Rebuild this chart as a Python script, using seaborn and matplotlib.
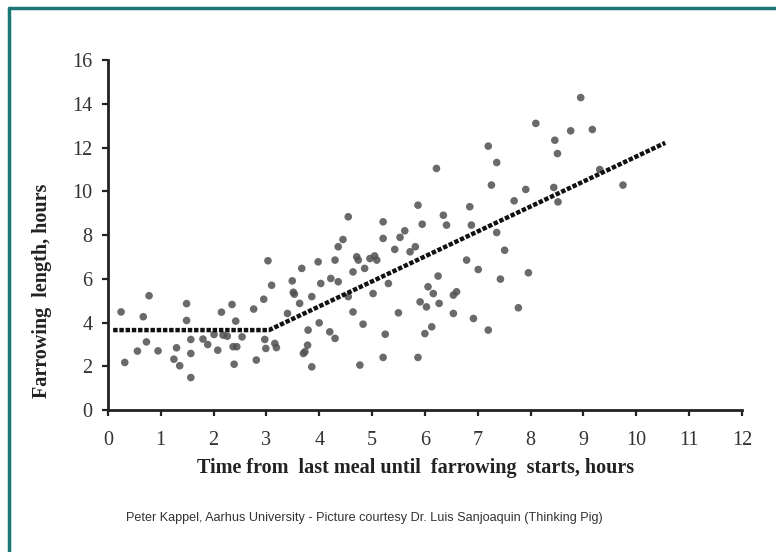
import matplotlib
matplotlib.use("Agg")
import matplotlib.pyplot as plt
import seaborn as sns
import pandas as pd
from matplotlib.lines import Line2D

# ---- data ----
time_h = [0.25, 0.32, 0.56, 0.67, 0.73, 0.78, 0.95, 1.25, 1.30, 1.36, 1.49, 1.49,
          1.57, 1.57, 1.57, 1.80, 1.89, 2.01, 2.08, 2.15, 2.18, 2.26, 2.35, 2.37,
          2.44, 2.39, 2.42, 2.54, 2.76, 2.81, 2.95, 2.97, 2.99, 3.03, 3.10, 3.16,
          3.19, 3.40, 3.49, 3.51, 3.53, 3.63, 3.67, 3.70, 3.73, 3.78, 3.79, 3.86,
          3.86, 3.98, 4.00, 4.03, 4.20, 4.22, 4.30, 4.30, 4.36, 4.36, 4.45, 4.55,
          4.55, 4.64, 4.64, 4.71, 4.74, 4.77, 4.83, 4.86, 4.96, 5.02, 5.05, 5.09,
          5.21, 5.21, 5.21, 5.25, 5.31, 5.43, 5.50, 5.53, 5.62, 5.72, 5.82, 5.87,
          5.87, 5.91, 5.95, 6.00, 6.03, 6.06, 6.13, 6.16, 6.22, 6.25, 6.27, 6.35,
          6.41, 6.54, 6.54, 6.60, 6.79, 6.85, 6.88, 6.92, 7.01, 7.20, 7.20, 7.26,
          7.36, 7.36, 7.43, 7.51, 7.69, 7.77, 7.91, 7.96, 8.10, 8.44, 8.46, 8.51,
          8.52, 8.76, 8.95, 9.17, 9.31, 9.75]
length_h = [4.49, 2.18, 2.70, 4.27, 3.12, 5.23, 2.71, 2.33, 2.85, 2.03, 4.87, 4.10,
            3.23, 2.59, 1.49, 3.25, 3.00, 3.46, 2.74, 4.48, 3.43, 3.38, 4.83, 2.90,
            2.90, 2.10, 4.07, 3.35, 4.62, 2.29, 5.07, 3.23, 2.82, 6.83, 5.71, 3.05,
            2.86, 4.42, 5.91, 5.39, 5.30, 4.88, 6.48, 2.59, 2.67, 2.97, 3.66, 5.19,
            1.98, 6.78, 3.99, 5.79, 3.58, 6.02, 3.28, 6.86, 5.87, 7.47, 7.80, 8.84,
            5.19, 6.32, 4.49, 7.01, 6.86, 2.06, 3.93, 6.48, 6.93, 5.33, 7.05, 6.86,
            8.61, 7.85, 2.41, 3.47, 5.79, 7.35, 4.45, 7.90, 8.20, 7.24, 7.47, 9.37,
            2.41, 4.95, 8.50, 3.50, 4.72, 5.64, 3.81, 5.33, 11.05, 6.13, 4.88, 8.91,
            8.46, 5.26, 4.42, 5.41, 6.86, 9.30, 8.46, 4.19, 6.43, 12.07, 3.66, 10.29,
            11.32, 8.12, 5.99, 7.31, 9.57, 4.68, 10.09, 6.28, 13.11, 10.18, 12.34, 11.73,
            9.52, 12.77, 14.29, 12.83, 11.00, 10.29]

fit_x = [0.1, 3.05, 10.55]
fit_y = [3.66, 3.66, 12.22]

x_ticks = list(range(0, 13))
y_ticks = list(range(0, 17, 2))

x_label = "Time from  last meal until  farrowing  starts, hours"
y_label = "Farrowing  length, hours"
caption = "Peter Kappel, Aarhus University - Picture courtesy Dr. Luis Sanjoaquin (Thinking Pig)"

df = pd.DataFrame({"time": time_h, "length": length_h})
fit_df = pd.DataFrame({"time": fit_x, "length": fit_y})

sns.set_theme(style="white")
plt.rcParams["font.family"] = ["Liberation Serif", "DejaVu Serif"]

W, H = 776, 552
fig = plt.figure(figsize=(W / 100, H / 100), dpi=100)
fig.patch.set_facecolor("white")
ax = fig.add_axes([0.139, 0.257, 0.817, 0.634])

sns.scatterplot(data=df, x="time", y="length", ax=ax, s=30, color="#505050",
                edgecolor="none", alpha=0.85, zorder=3)
sns.lineplot(data=fit_df, x="time", y="length", ax=ax, color="#111111",
             linewidth=3.2, linestyle=(0, (1.0, 0.4)), zorder=4)

ax.set_xlim(0, 12)
ax.set_ylim(0, 16)
ax.set_xticks(x_ticks)
ax.set_yticks(y_ticks)
ax.set_xticklabels([str(v) for v in x_ticks], fontsize=14.5, color="#333333")
ax.set_yticklabels([str(v) for v in y_ticks], fontsize=14.5, color="#333333")
ax.tick_params(axis="x", direction="out", length=4, width=1.6, color="#222222",
               pad=11, bottom=True)
ax.tick_params(axis="y", direction="out", length=4, width=1.6, color="#222222",
               pad=7, left=True)

for side in ["top", "right"]:
    ax.spines[side].set_visible(False)
for side in ["left", "bottom"]:
    ax.spines[side].set_color("#222222")
    ax.spines[side].set_linewidth(2.0)

ax.set_xlabel(x_label, fontsize=14.5, fontweight="bold", color="#222222")
ax.set_ylabel(y_label, fontsize=14.5, fontweight="bold", color="#222222")
ax.xaxis.set_label_coords((416 - 108) / 634, (410 - 468) / 350)
ax.yaxis.set_label_coords((42 - 108) / 634, (410 - 291) / 350)
ax.xaxis.label.set_va("center")
ax.yaxis.label.set_va("center")
ax.grid(False)

fig.text(364 / W, 1 - 518 / H, caption, ha="center", va="center", fontsize=9.1,
         family=["Liberation Sans", "DejaVu Sans"], color="#333333")

# teal frame on left and top edges
fig.add_artist(Line2D([9 / W, 9 / W], [0, 1 - 8 / H], transform=fig.transFigure,
                      color="#1b7676", linewidth=2.5))
fig.add_artist(Line2D([9 / W, 1], [1 - 8 / H, 1 - 8 / H], transform=fig.transFigure,
                      color="#1b7676", linewidth=2.5))

fig.savefig("out.png", dpi=100, facecolor="white")
